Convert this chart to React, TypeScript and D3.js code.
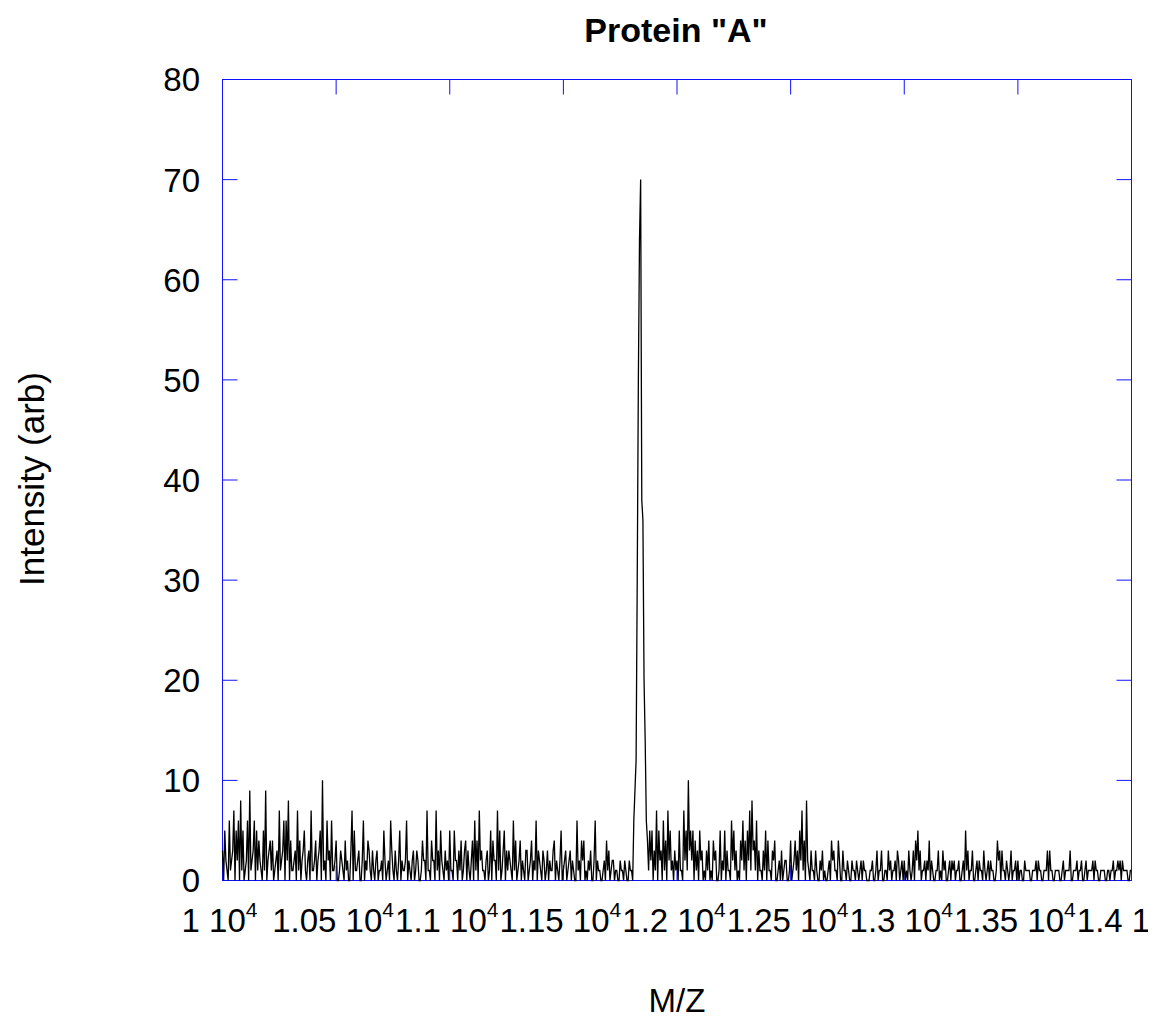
import React from 'react';
import * as d3 from 'd3';

// m/z sampling grid (readings every 5 m/z: main samples + in-between samples)
const MZ_START = 10000;
const MZ_STEP = 5;

// Intensity readings (arb) at 10000, 10010, ... 10990
const seg1 = [
  3, 5, 1, 6, 2, 7, 5, 6, 8, 5,
  1, 6, 9, 2, 6, 5, 4, 1, 5, 9,
  2, 4, 4, 1, 3, 7, 2, 6, 6, 8,
  4, 1, 3, 7, 4, 2, 5, 0, 3, 7,
  1, 4, 2, 5, 10, 2, 6, 3, 6, 1,
  4, 0, 3, 1, 4, 2, 0, 7, 5, 1,
  3, 0, 6, 2, 4, 1, 3, 0, 3, 1,
  2, 5, 0, 2, 6, 1, 3, 0, 5, 2,
  1, 6, 2, 0, 3, 1, 2, 0, 4, 2,
  7, 1, 4, 2, 7, 3, 5, 1, 3, 2,
];
// in-between readings at 10005, 10015, ... 10995
const half1 = [
  0, 2, 0, 1, 3, 0, 2, 0, 1, 0,
  2, 0, 1, 3, 0, 1, 2, 0, 1, 0,
  3, 1, 0, 2, 0, 1, 3, 0, 2, 0,
  1, 2, 0, 1, 0, 3, 1, 2, 0, 1,
  2, 0, 3, 0, 1, 0, 2, 0, 1, 2,
  0, 1, 2, 0, 1, 0, 3, 0, 1, 2,
  0, 2, 0, 1, 3, 0, 1, 2, 0, 1,
  0, 2, 1, 0, 3, 0, 1, 2, 0, 1,
  2, 0, 1, 2, 0, 3, 0, 1, 2, 0,
  1, 0, 2, 0, 1, 0, 2, 0, 1, 0,
];
// 11000–11990 (main peak)
const seg2 = [
  5, 1, 5, 2, 3, 4, 1, 4, 3, 0,
  4, 6, 4, 7, 3, 1, 2, 0, 5, 4,
  2, 7, 5, 1, 5, 3, 3, 1, 6, 4,
  1, 4, 2, 0, 3, 1, 4, 2, 6, 3,
  1, 3, 0, 3, 2, 1, 4, 2, 0, 5,
  1, 3, 1, 3, 2, 0, 6, 2, 4, 4,
  1, 2, 3, 0, 6, 2, 1, 0, 2, 4,
  3, 1, 2, 1, 0, 2, 1, 2, 0, 2,
  1, 6, 12, 50, 70, 36, 14, 4, 5, 5,
  3, 7, 5, 3, 6, 4, 7, 5, 2, 3,
];
const half2 = [
  1, 0, 2, 0, 1, 0, 3, 0, 1, 2,
  0, 1, 0, 2, 1, 0, 3, 1, 0, 2,
  0, 1, 0, 3, 0, 1, 2, 0, 1, 0,
  2, 0, 1, 3, 0, 2, 0, 1, 0, 2,
  0, 2, 1, 0, 1, 3, 0, 1, 2, 0,
  2, 0, 2, 0, 1, 0, 1, 0, 2, 0,
  0, 1, 0, 2, 0, 1, 0, 1, 0, 1,
  0, 2, 0, 1, 0, 1, 0, 1, 0, 1,
  0, 9, 30, 64, 38, 20, 6, 1, 2, 0,
  1, 0, 2, 0, 1, 0, 2, 1, 0, 1,
];
// 12000–12990
const seg3 = [
  2, 5, 1, 7, 5, 10, 5, 5, 4, 3,
  5, 3, 1, 3, 4, 1, 4, 3, 0, 5,
  2, 5, 3, 1, 6, 5, 3, 1, 4, 6,
  4, 5, 7, 8, 4, 6, 3, 1, 3, 5,
  4, 1, 3, 4, 0, 2, 3, 1, 2, 0,
  4, 1, 4, 3, 5, 7, 4, 8, 1, 3,
  1, 3, 0, 2, 3, 1, 0, 2, 4, 3,
  1, 4, 0, 3, 1, 2, 0, 2, 1, 2,
  0, 2, 2, 1, 0, 1, 2, 0, 3, 1,
  3, 0, 1, 3, 2, 1, 2, 3, 0, 2,
];
const half3 = [
  0, 1, 0, 2, 1, 3, 2, 0, 1, 0,
  2, 0, 0, 1, 0, 0, 2, 0, 1, 0,
  1, 0, 1, 0, 2, 1, 0, 0, 2, 1,
  0, 2, 1, 3, 1, 0, 1, 0, 1, 0,
  1, 0, 2, 0, 1, 0, 0, 2, 0, 1,
  0, 2, 1, 0, 2, 1, 0, 2, 0, 1,
  0, 1, 0, 1, 0, 0, 1, 0, 2, 1,
  0, 2, 0, 1, 0, 1, 0, 1, 0, 1,
  1, 0, 1, 0, 0, 1, 0, 1, 0, 1,
  0, 1, 0, 1, 0, 1, 0, 2, 1, 0,
];
// 13000–14000
const seg4 = [
  2, 1, 3, 0, 3, 4, 5, 3, 1, 2,
  2, 4, 2, 0, 1, 3, 1, 3, 2, 0,
  2, 2, 2, 1, 2, 0, 2, 5, 3, 1,
  3, 0, 2, 2, 1, 3, 0, 2, 2, 1,
  0, 4, 3, 3, 1, 2, 0, 3, 1, 2,
  2, 1, 0, 2, 1, 1, 0, 1, 2, 2,
  1, 0, 1, 3, 3, 1, 0, 1, 1, 0,
  2, 1, 1, 3, 0, 1, 2, 1, 2, 0,
  2, 1, 1, 2, 2, 1, 0, 1, 1, 0,
  1, 1, 2, 1, 2, 2, 2, 1, 1, 0,
  1,
];
const half4 = [
  0, 0, 1, 1, 0, 2, 1, 0, 1, 0,
  1, 0, 1, 0, 1, 0, 0, 1, 0, 1,
  0, 1, 0, 1, 0, 1, 0, 1, 0, 1,
  0, 1, 0, 1, 0, 1, 1, 0, 1, 0,
  1, 2, 0, 1, 0, 1, 1, 0, 1, 0,
  0, 1, 0, 1, 1, 0, 1, 1, 0, 1,
  0, 1, 1, 0, 1, 0, 1, 1, 0, 1,
  0, 1, 1, 0, 1, 1, 0, 1, 0, 1,
  0, 1, 1, 0, 1, 0, 1, 1, 0, 1,
  0, 1, 0, 1, 1, 0, 1, 1, 0, 1,
];

const mainSamples = [...seg1, ...seg2, ...seg3, ...seg4];
const betweenSamples = [...half1, ...half2, ...half3, ...half4];

const yTicks = [0, 10, 20, 30, 40, 50, 60, 70, 80];
const xTicks = [10000, 10500, 11000, 11500, 12000, 12500, 13000, 13500, 14000];
const xTickMantissa = ['1', '1.05', '1.1', '1.15', '1.2', '1.25', '1.3', '1.35', '1.4'];

const TITLE = 'Protein "A"';
const X_LABEL = 'M/Z';
const Y_LABEL = 'Intensity (arb)';

export default function App() {
  const W = 1148;
  const H = 1021;
  const left = 222.5;
  const right = 1131.5;
  const top = 79.5;
  const bottom = 880.5;
  const x = d3.scaleLinear().domain([10000, 14000]).range([left, right]);
  const y = d3.scaleLinear().domain([0, 80]).range([bottom, top]);
  const blue = '#1010ff';
  const font = '"Liberation Sans", Arial, Helvetica, sans-serif';
  const tickLen = 15;

  const series: number[] = [];
  mainSamples.forEach((v, i) => {
    series.push(v);
    if (i < betweenSamples.length) series.push(betweenSamples[i]);
  });
  const pts = series.map((v, k) => [MZ_START + k * MZ_STEP, v] as [number, number]);
  const line = d3
    .line<[number, number]>()
    .x((d) => x(d[0]))
    .y((d) => y(d[1]));

  return (
    <svg
      width={W}
      height={H}
      style={{ position: 'absolute', left: 0, top: 0, background: '#fff' }}
      fontFamily={font}
    >
      <rect x={0} y={0} width={W} height={H} fill="#fff" />
      <text x={676} y={42} textAnchor="middle" fontSize={34} fontWeight="bold" fill="#000">
        {TITLE}
      </text>

      {yTicks.map((t) => (
        <g key={'y' + t}>
          <line x1={left} x2={left + tickLen} y1={y(t)} y2={y(t)} stroke={blue} strokeWidth={1} />
          <line x1={right} x2={right - tickLen} y1={y(t)} y2={y(t)} stroke={blue} strokeWidth={1} />
          <text x={200} y={y(t)} dy="0.36em" textAnchor="end" fontSize={33} fill="#000">
            {t}
          </text>
        </g>
      ))}
      {xTicks.map((t, i) => (
        <g key={'x' + t}>
          <line x1={x(t)} x2={x(t)} y1={top} y2={top + tickLen} stroke={blue} strokeWidth={1} />
          <line x1={x(t)} x2={x(t)} y1={bottom} y2={bottom - tickLen} stroke={blue} strokeWidth={1} />
          <text x={x(t) - 3} y={932} textAnchor="middle" fontSize={33} fill="#000">
            <tspan>{xTickMantissa[i] + ' 10'}</tspan>
            <tspan fontSize={21} dy={-15}>4</tspan>
          </text>
        </g>
      ))}

      <rect
        x={left}
        y={top}
        width={right - left}
        height={bottom - top}
        fill="none"
        stroke={blue}
        strokeWidth={1}
      />

      <path d={line(pts) || ''} fill="none" stroke="#000" strokeWidth={1.3} />

      <text x={677} y={1012} textAnchor="middle" fontSize={33} fill="#000">
        {X_LABEL}
      </text>
      <text
        transform={`translate(44, 479) rotate(-90)`}
        textAnchor="middle"
        fontSize={35}
        fill="#000"
      >
        {Y_LABEL}
      </text>
    </svg>
  );
}
